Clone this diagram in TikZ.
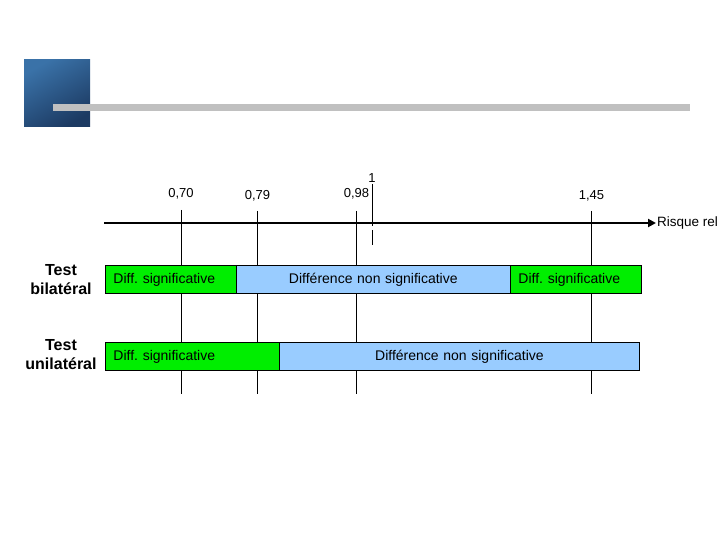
\documentclass[tikz,border=0pt]{standalone}
\usepackage{fontspec}
\setmainfont{Liberation Sans}
\usetikzlibrary{arrows.meta}
\frenchspacing
\definecolor{logoA}{HTML}{3A72A8}
\definecolor{logoB}{HTML}{1C3A62}
\definecolor{barGray}{HTML}{C0C0C0}
\definecolor{sigGreen}{HTML}{00EE00}
\definecolor{nsBlue}{HTML}{99CCFF}
\tikzset{
  tickline/.style={line width=1pt, black},
  axisline/.style={line width=2.6pt, black, -{Triangle[length=8pt,width=8pt]}},
  ticklabel/.style={font=\fontsize{13}{15}\selectfont, inner sep=0pt, anchor=base},
  boxbase/.style={draw=black, line width=0.9pt, minimum height=28pt, anchor=north west,
                  font=\fontsize{14}{16}\selectfont, inner ysep=0pt},
  sigbox/.style={boxbase, fill=sigGreen, align=left, inner xsep=8pt},
  nsbox/.style={boxbase, fill=nsBlue, align=center, inner xsep=0pt},
  testlabel/.style={font=\fontsize{16}{19}\selectfont\bfseries, align=center, inner sep=0pt},
}
\begin{document}
\begin{tikzpicture}[x=1pt, y=-1pt]
\useasboundingbox (0,0) rectangle (720,540);
% logo
\shade[shading=axis, top color=logoA, bottom color=logoB, shading angle=30] (24,60) rectangle (90,127);
\fill[barGray] (53,104) rectangle (690,111);
% tick coordinates
\coordinate (t70a) at (181,210);  \coordinate (t70b) at (181,394);
\coordinate (t79a) at (257.5,211); \coordinate (t79b) at (257.5,394);
\coordinate (t98a) at (356.5,211); \coordinate (t98b) at (356.5,394);
\coordinate (t145a) at (591.5,211); \coordinate (t145b) at (591.5,394);
\coordinate (t1a) at (372,184); \coordinate (t1b) at (372,226);
\coordinate (t1c) at (372,230); \coordinate (t1d) at (372,245);
% tick lines
\draw[tickline] (t70a) -- (t70b);
\draw[tickline] (t79a) -- (t79b);
\draw[tickline] (t98a) -- (t98b);
\draw[tickline] (t145a) -- (t145b);
\draw[tickline] (t1a) -- (t1b);
\draw[tickline] (t1c) -- (t1d);
% axis
\coordinate (axs) at (104,223);
\coordinate (axe) at (656,223);
\draw[axisline] (axs) -- (axe);
\node[font=\fontsize{13.5}{15}\selectfont, anchor=west, inner sep=1pt] (rr) at (axe) {Risque rel};
% tick labels
\node[ticklabel] (l70) at (181,197.5) {0,70};
\node[ticklabel] (l79) at (257.5,200) {0,79};
\node[ticklabel] (l98) at (356.5,198) {0,98};
\node[ticklabel] (l1) at (372,183) {1};
\node[ticklabel] (l145) at (591.5,200) {1,45};
% row 1 boxes
\node[sigbox, text width=114.7pt] (b1g1) at (105,265) {Diff. significative};
\node[nsbox, text width=274.3pt] (b1n) at (235.7,265) {Différence non significative};
\node[sigbox, text width=114.7pt] (b1g2) at (510,265) {Diff. significative};
% row 2 boxes
\node[sigbox, text width=158pt] (b2g) at (105,342) {Diff. significative};
\node[nsbox, text width=360pt] (b2n) at (279,342) {Différence non significative};
% left labels
\node[testlabel] (bil) at (61,280) {Test\\bilatéral};
\node[testlabel] (uni) at (61,355) {Test\\unilatéral};
\end{tikzpicture}
\end{document}
